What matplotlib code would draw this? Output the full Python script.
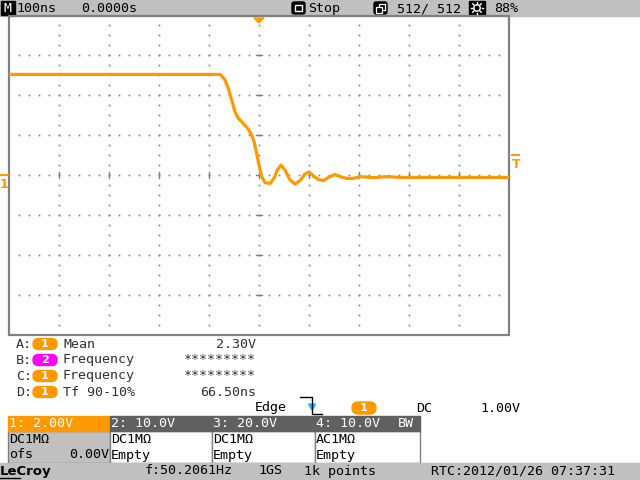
import numpy as np
import matplotlib
matplotlib.use("Agg")
import matplotlib.pyplot as plt
from matplotlib.patches import Rectangle, FancyBboxPatch, Polygon, Circle

# trace: time (ns), volts
t_ns = [-500, -78, -74.6, -68, -61.3, -54.7, -48, -41.3, -31.3, -21.3, -14.7, -10, -4.7,
        0.7, 5.3, 12, 22, 30, 36.7, 44, 52, 62, 72, 82, 92, 100, 108.7, 118.7, 128.7,
        142, 152, 162, 175.3, 188.7, 202, 228.7, 255.3, 282, 500]
volts = [5.03, 5.03, 4.95, 4.75, 4.33, 3.75, 3.17, 2.83, 2.58, 2.28, 2.0, 1.67, 1.08,
         0.42, -0.08, -0.38, -0.42, -0.17, 0.25, 0.5, 0.25, -0.25, -0.45, -0.28, 0.05,
         0.15, -0.05, -0.22, -0.28, -0.08, 0.02, -0.08, -0.17, -0.17, -0.08, -0.13,
         -0.08, -0.12, -0.12]

# screen texts
top_texts = ["100ns", "0.0000s", "Stop", "512/ 512", "88%"]
meas_letters = ["A:", "B:", "C:", "D:"]
meas_src = ["1", "2", "1", "1"]
meas_names = ["Mean", "Frequency", "Frequency", "Tf 90-10%"]
meas_values = ["2.30V", "*********", "*********", "66.50ns"]
ch_headers = ["1: 2.00V", "2: 10.0V", "3: 20.0V", "4: 10.0V"]
ch_coupling = ["DC1MΩ", "DC1MΩ", "DC1MΩ", "AC1MΩ"]
ch_state = ["ofs", "Empty", "Empty", "Empty"]
status_texts = ["f:50.2061Hz", "1GS", "1k points", "RTC:2012/01/26 07:37:31"]

ORANGE = "#ff9900"
MAGENTA = "#ff00ff"
BAR = "#c0c0c0"
DARK = "#606060"
GRID = "#808080"
TXT = "#303030"
FONT = "DejaVu Sans Mono"
FS = 9.6

fig = plt.figure(figsize=(6.4, 4.8), dpi=100)
fig.patch.set_facecolor("white")
ax = fig.add_axes([0, 0, 1, 1])
ax.set_xlim(0, 640)
ax.set_ylim(480, 0)
ax.axis("off")

def txt(x, y, s, color="black", ha="left", **kw):
    ax.text(x, y, s, color=color, ha=ha, va="center", family=FONT, fontsize=FS, **kw)

# top bar
ax.add_patch(Rectangle((0, 0), 640, 16, color=BAR))
ax.add_patch(Rectangle((1, 1), 14, 14, color="black"))
txt(8, 8.5, "M", color="white", ha="center")
txt(16, 8.5, top_texts[0])
txt(81, 8.5, top_texts[1])
ax.add_patch(FancyBboxPatch((292, 2), 13, 12, boxstyle="round,pad=0,rounding_size=2", color="black"))
ax.add_patch(Rectangle((295, 5), 7, 6, fill=False, ec="white", lw=1))
txt(308, 8.5, top_texts[2])
ax.add_patch(FancyBboxPatch((374, 2), 13, 12, boxstyle="round,pad=0,rounding_size=2", color="black"))
ax.add_patch(Rectangle((379, 4), 6, 6, fill=False, ec="white", lw=0.9))
ax.add_patch(Rectangle((376, 7), 6, 6, fc="black", ec="white", lw=0.9))
txt(397, 8.5, top_texts[3])
ax.add_patch(Rectangle((469, 1), 16, 14, color="black"))
ax.add_patch(Circle((477, 8), 3.2, fc="black", ec="white", lw=1))
for a in np.arange(0, 360, 45):
    r = np.deg2rad(a)
    ax.plot([477 + 4.5 * np.cos(r), 477 + 6 * np.cos(r)],
            [8 + 4.5 * np.sin(r), 8 + 6 * np.sin(r)], color="white", lw=1)
txt(494, 8.5, top_texts[4])

# grid frame
ax.add_patch(Rectangle((9, 16), 500, 319, fill=False, ec=GRID, lw=1.6))

# trigger marker on top, channel marker left, trigger level right
ax.add_patch(Polygon([(254, 18), (264, 18), (259, 23)], color=ORANGE))
ax.plot([1, 8], [175, 175], color=ORANGE, lw=1.4)
ax.text(4, 185, "1", color=ORANGE, ha="center", va="center", family="DejaVu Sans",
        fontsize=9, fontweight="bold")
ax.plot([512, 519], [155, 155], color=ORANGE, lw=1.4)
ax.text(516, 165, "T", color=ORANGE, ha="center", va="center", family="DejaVu Sans",
        fontsize=9, fontweight="bold")

# trace axes
tr = fig.add_axes([9 / 640, (480 - 335) / 480, 500 / 640, 320 / 480])
tr.set_xlim(-500, 500)
tr.set_ylim(-8, 8)
tr.axis("off")
tr.patch.set_alpha(0)

for tv in range(-400, 401, 100):
    vv = np.arange(-7.5, 8, 0.5)
    tr.plot(np.full_like(vv, tv), vv, ls="none", marker="s", ms=1.2, color=GRID, mew=0)
for vh in range(-6, 7, 2):
    th = np.arange(-480, 500, 20)
    tr.plot(th, np.full_like(th, vh, dtype=float), ls="none", marker="s", ms=1.2, color=GRID, mew=0)
for vh in range(-6, 7, 2):
    tr.plot([-6, 6], [vh, vh], color=GRID, lw=1)
for tv in range(-400, 401, 100):
    tr.plot([tv, tv], [-0.15, 0.15], color=GRID, lw=1)

tr.plot(t_ns, volts, color=ORANGE, lw=2.3, solid_joinstyle="round")

# measurements
for i in range(4):
    y = 344 + 16 * i
    txt(16, y, meas_letters[i], color=TXT)
    col = MAGENTA if meas_src[i] == "2" else ORANGE
    ax.add_patch(FancyBboxPatch((33, y - 5.5), 24, 11, boxstyle="round,pad=0,rounding_size=5.5", color=col))
    ax.text(45, y, meas_src[i], color="white", ha="center", va="center",
            family="DejaVu Sans", fontsize=8, fontweight="bold")
    txt(63, y, meas_names[i], color=TXT)
    txt(256, y, meas_values[i], color=TXT, ha="right")

# trigger line
ty = 408
txt(255, ty, "Edge")
ax.plot([300, 312, 312, 322], [397, 397, 414, 414], color="black", lw=1)
ax.add_patch(Polygon([(308.5, 404), (315.5, 404), (312, 410)], color="#00c8ff"))
ax.add_patch(FancyBboxPatch((352, ty - 6), 24, 12, boxstyle="round,pad=0,rounding_size=6", color=ORANGE))
ax.text(364, ty, "1", color="white", ha="center", va="center", family="DejaVu Sans",
        fontsize=8, fontweight="bold")
txt(416, ty, "DC")
txt(480, ty, "1.00V")

# channel boxes
xs = [8, 110, 212, 315, 420]
for i in range(4):
    x0, x1 = xs[i], xs[i + 1]
    hcol = ORANGE if i == 0 else DARK
    body = BAR if i == 0 else "white"
    ax.add_patch(Rectangle((x0, 431), x1 - x0, 32, fc=body, ec=GRID, lw=1))
    ax.add_patch(Rectangle((x0, 416), x1 - x0, 15, color=hcol))
    txt(x0 + 1, 423.5, ch_headers[i], color="white")
    txt(x0 + 1, 439.5, ch_coupling[i])
    txt(x0 + 1, 455, ch_state[i])
txt(109, 455, "0.00V", ha="right")
txt(398, 423.5, "BW", color="white")

# bottom status bar
ax.add_patch(Rectangle((0, 463), 640, 17, color=BAR))
ax.text(0, 471, "LeCroy", color="black", ha="left", va="center", family="DejaVu Sans",
        fontsize=9.5, fontweight="bold")
ax.plot([0, 20], [478, 478], color="black", lw=1)
txt(145, 471, status_texts[0])
txt(258, 471, status_texts[1])
txt(304, 471, status_texts[2])
txt(431, 471, status_texts[3])

fig.savefig("out.png", dpi=100)
